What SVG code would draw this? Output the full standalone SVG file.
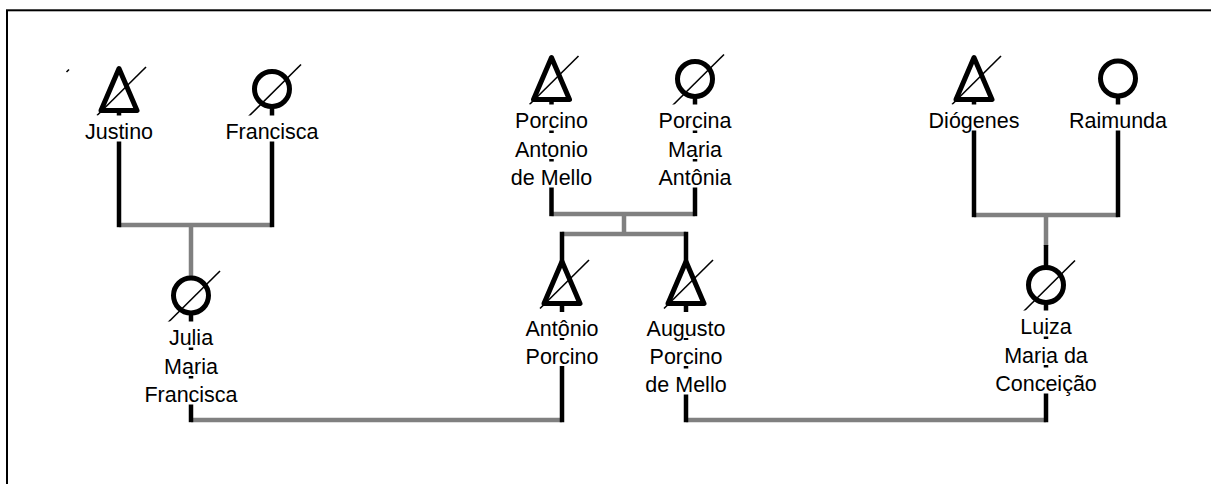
<svg xmlns="http://www.w3.org/2000/svg" width="1211" height="484" viewBox="0 0 1211 484">
  <style>
    .frame { fill: none; stroke: #000; stroke-width: 2; }
    .bar { stroke: #808080; stroke-width: 4.5; fill: none; }
    .line { stroke: #000; stroke-width: 4.5; fill: none; }
    .male { fill: #fff; stroke: #000; stroke-width: 5; stroke-linejoin: round; }
    .female { fill: #fff; stroke: #000; stroke-width: 5; }
    .dead { stroke: #000; stroke-width: 1.6; }
    .bg { fill: #fff; }
    text { font-family: "Liberation Sans", Arial, sans-serif; font-size: 21.5px; fill: #000; text-anchor: middle; }
  </style>
  <defs>
    <!-- male symbol: triangle whose base sits on y=0, centred on x=0 -->
    <path id="tri" class="male" d="M0,-42 L18,0 L-18,0 Z"/>
    <line id="triSlash" class="dead" x1="-22" y1="5" x2="27" y2="-43.5"/>
    <!-- female symbol: circle centred on the origin -->
    <circle id="circ" class="female" r="17.5"/>
    <line id="circSlash" class="dead" x1="-24" y1="28" x2="29" y2="-24.5"/>
  </defs>

  <rect class="frame" x="7" y="10.3" width="1300" height="600"/>
  <line class="dead" x1="66.5" y1="72" x2="69" y2="69.5"/>

  <g id="connectors">
    <!-- couple bars and descent lines -->
    <path class="bar" d="M119,225 H272 M191,225 V277"/>
    <path class="bar" d="M551.5,214 H695 M624,214 V234 M562,234 H686"/>
    <path class="bar" d="M974,215 H1118 M1046,215 V246"/>
    <path class="bar" d="M191,420 H562 M686,420 H1046"/>
    <!-- individual lines -->
    <path class="line" d="M119,108 V227.2"/>
    <path class="line" d="M272,105 V227.2"/>
    <path class="line" d="M551.5,97 V216.2"/>
    <path class="line" d="M695,95 V216.2"/>
    <path class="line" d="M974,97 V217.2"/>
    <path class="line" d="M1118,95 V217.2"/>
    <path class="line" d="M191,295 V422.2"/>
    <path class="line" d="M562,231.8 V422.2"/>
    <path class="line" d="M686,231.8 V422.2"/>
    <path class="line" d="M1046,245 V422.2"/>
  </g>

  <g id="justino">
    <use href="#tri" x="119" y="110.5"/>
    <use href="#triSlash" x="119" y="110.5"/>
    <rect class="bg" x="83" y="115.5" width="72" height="26"/>
    <text x="119" y="139">Justino</text>
  </g>

  <g id="francisca">
    <use href="#circ" x="272" y="89"/>
    <use href="#circSlash" x="272" y="89"/>
    <rect class="bg" x="224" y="115.5" width="96" height="26"/>
    <text x="272" y="139">Francisca</text>
  </g>

  <g id="porcino">
    <use href="#tri" x="551.5" y="99.5"/>
    <use href="#triSlash" x="551.5" y="99.5"/>
    <rect class="bg" x="514" y="104.5" width="75" height="26"/>
    <rect class="bg" x="514" y="133" width="75" height="26"/>
    <rect class="bg" x="510" y="161.5" width="83" height="26"/>
    <text x="551.5" y="128">Porcino</text>
    <text x="551.5" y="156.5">Antonio</text>
    <text x="551.5" y="185">de Mello</text>
  </g>

  <g id="porcina">
    <use href="#circ" x="695" y="79"/>
    <use href="#circSlash" x="695" y="79"/>
    <rect class="bg" x="656" y="104.5" width="78" height="26"/>
    <rect class="bg" x="666" y="133" width="58" height="26"/>
    <rect class="bg" x="652" y="161.5" width="86" height="26"/>
    <text x="695" y="128">Porcina</text>
    <text x="695" y="156.5">Maria</text>
    <text x="695" y="185">Antônia</text>
  </g>

  <g id="diogenes">
    <use href="#tri" x="974" y="99.5"/>
    <use href="#triSlash" x="974" y="99.5"/>
    <rect class="bg" x="929" y="104.5" width="90" height="26"/>
    <text x="974" y="128">Diógenes</text>
  </g>

  <g id="raimunda">
    <use href="#circ" x="1118" y="78.5"/>
    <rect class="bg" x="1072" y="104.5" width="92" height="26"/>
    <text x="1118" y="128">Raimunda</text>
  </g>

  <g id="julia">
    <use href="#circ" x="191" y="295.5"/>
    <use href="#circSlash" x="191" y="295.5"/>
    <rect class="bg" x="166" y="321.5" width="50" height="26"/>
    <rect class="bg" x="162" y="350" width="58" height="26"/>
    <rect class="bg" x="143" y="378.5" width="96" height="26"/>
    <text x="191" y="345">Julia</text>
    <text x="191" y="373.5">Maria</text>
    <text x="191" y="402">Francisca</text>
  </g>

  <g id="antonio">
    <use href="#tri" x="562" y="303.5"/>
    <use href="#triSlash" x="562" y="303.5"/>
    <rect class="bg" x="523" y="312" width="78" height="26"/>
    <rect class="bg" x="524" y="340" width="76" height="26"/>
    <text x="562" y="335.5">Antônio</text>
    <text x="562" y="363.5">Porcino</text>
  </g>

  <g id="augusto">
    <use href="#tri" x="686" y="303.5"/>
    <use href="#triSlash" x="686" y="303.5"/>
    <rect class="bg" x="645" y="312" width="82" height="26"/>
    <rect class="bg" x="648" y="340" width="76" height="26"/>
    <rect class="bg" x="644" y="368.5" width="84" height="26"/>
    <text x="686" y="335.5">Augusto</text>
    <text x="686" y="363.5">Porcino</text>
    <text x="686" y="392">de Mello</text>
  </g>

  <g id="luiza">
    <use href="#circ" x="1046" y="285"/>
    <use href="#circSlash" x="1046" y="285"/>
    <rect class="bg" x="1020" y="310.5" width="52" height="26"/>
    <rect class="bg" x="1003" y="339" width="86" height="26"/>
    <rect class="bg" x="994" y="367.5" width="104" height="26"/>
    <text x="1046" y="334">Luiza</text>
    <text x="1046" y="362.5">Maria da</text>
    <text x="1046" y="391">Conceição</text>
  </g>
</svg>
